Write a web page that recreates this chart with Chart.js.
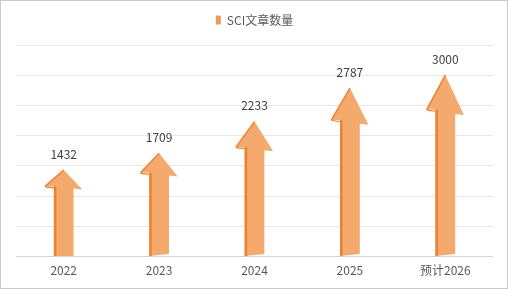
<!DOCTYPE html>
<html>
<head>
<meta charset="utf-8">
<script src="https://cdn.jsdelivr.net/npm/chart.js@4.4.1/dist/chart.umd.min.js"></script>
<style>
  html, body { margin: 0; padding: 0; background: #ffffff; }
  #wrap { position: relative; width: 508px; height: 289px; }
  canvas { display: block; }
</style>
</head>
<body>
<div id="wrap"><canvas id="c" width="508" height="289"></canvas></div>
<script>
const categories = ["2022", "2023", "2024", "2025", "预计2026"];
const seriesName = "SCI文章数量";
const sciCounts = [1432, 1709, 2233, 2787, 3000];
const yTicks = [0, 500, 1000, 1500, 2000, 2500, 3000, 3500];

const FONT = '"Noto Sans CJK SC", "Noto Sans", sans-serif';
const FACE = '#F4A96D';
const EDGE = '#EE8131';

const borderPlugin = {
  id: 'frame',
  beforeInit(chart) {
    const legend = chart.legend;
    if (legend) {
      const fit = legend.fit;
      legend.fit = function () { fit.call(this); this.height += 9; };
    }
  },
  beforeDraw(chart) {
    const ctx = chart.ctx;
    ctx.save();
    ctx.fillStyle = '#ffffff';
    ctx.fillRect(0, 0, chart.width, chart.height);
    ctx.strokeStyle = '#c9c9c9';
    ctx.lineWidth = 1;
    ctx.strokeRect(0.5, 0.5, chart.width - 1, chart.height - 1);
    ctx.restore();
  }
};

const arrowPlugin = {
  id: 'arrows',
  afterDatasetsDraw(chart) {
    const ctx = chart.ctx;
    const meta = chart.getDatasetMeta(0);
    const ds = chart.data.datasets[0];
    meta.data.forEach((bar, i) => {
      const x = bar.x, tip = bar.y, base = bar.base, w = bar.width;
      const len = base - tip;
      const headH = len * 0.19;
      const hw = w / 2;
      const sw = w * 0.265;
      const s = 3 + i * 0.6;
      const b = i === 0 ? 0 : 2;
      const hy = tip + headH;
      ctx.save();
      ctx.beginPath();
      ctx.moveTo(x, tip);
      ctx.lineTo(x + hw, hy + s);
      ctx.lineTo(x + sw, hy + s - 1);
      ctx.lineTo(x + sw, base - b);
      ctx.lineTo(x - sw, base);
      ctx.lineTo(x - sw, hy);
      ctx.lineTo(x - hw, hy);
      ctx.closePath();
      ctx.fillStyle = FACE;
      ctx.fill();
      ctx.fillStyle = EDGE;
      ctx.fillRect(x - sw, hy, 2.5, base - hy);
      ctx.beginPath();
      ctx.moveTo(x - hw, hy);
      ctx.lineTo(x, tip);
      ctx.strokeStyle = EDGE;
      ctx.lineWidth = 1.5;
      ctx.stroke();
      ctx.beginPath();
      ctx.moveTo(x - hw, hy + 0.5);
      ctx.lineTo(x - sw, hy + 1.5);
      ctx.lineWidth = 1.2;
      ctx.stroke();
      ctx.fillStyle = '#404040';
      ctx.font = '12px ' + FONT;
      ctx.textAlign = 'center';
      ctx.textBaseline = 'middle';
      ctx.fillText(String(ds.data[i]), x, tip - 16);
      ctx.restore();
    });
  }
};

new Chart(document.getElementById('c'), {
  type: 'bar',
  data: {
    labels: categories,
    datasets: [{
      label: seriesName,
      data: sciCounts,
      backgroundColor: 'rgba(0,0,0,0)',
      borderWidth: 0,
      barPercentage: 0.39,
      categoryPercentage: 1.0
    }]
  },
  options: {
    responsive: false,
    animation: false,
    devicePixelRatio: 1,
    layout: { padding: { left: 16, right: 15, top: 4, bottom: 4 } },
    plugins: {
      legend: {
        display: true,
        position: 'top',
        labels: {
          boxWidth: 5,
          boxHeight: 9,
          padding: 10,
          color: '#595959',
          font: { family: FONT, size: 12 },
          generateLabels() {
            return [{
              text: seriesName,
              fillStyle: '#F29A55',
              strokeStyle: '#F29A55',
              lineWidth: 0,
              hidden: false,
              datasetIndex: 0,
              fontColor: '#595959'
            }];
          }
        }
      },
      tooltip: { enabled: false }
    },
    scales: {
      x: {
        grid: { display: false, drawTicks: false },
        border: { display: false },
        ticks: {
          color: '#595959',
          padding: 7,
          font: { family: FONT, size: 12 }
        }
      },
      y: {
        min: 0,
        max: 3500,
        afterBuildTicks(scale) { scale.ticks = yTicks.map(v => ({ value: v })); },
        grid: {
          drawTicks: false,
          color: (c) => c.tick && c.tick.value === 0 ? '#d4d4d4' : '#e8e8e8',
          lineWidth: 1
        },
        border: { display: false },
        ticks: { display: false }
      }
    }
  },
  plugins: [borderPlugin, arrowPlugin]
});
</script>
</body>
</html>
